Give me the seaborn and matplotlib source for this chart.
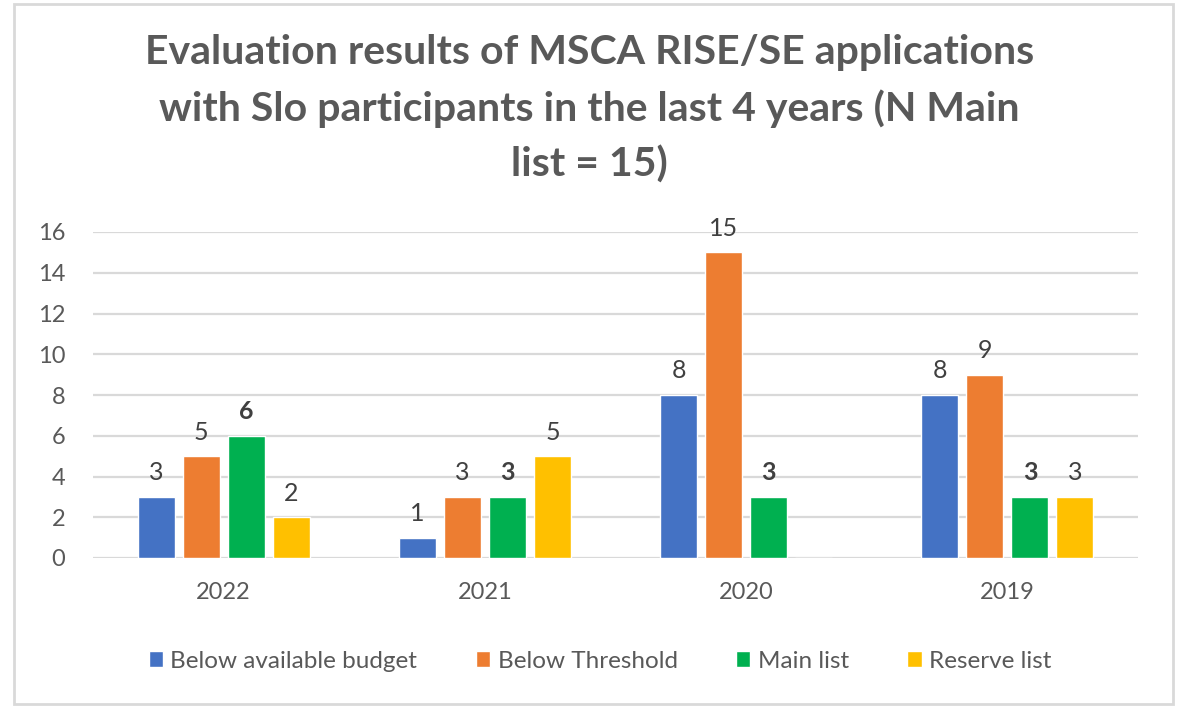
import pandas as pd
import matplotlib.pyplot as plt
import seaborn as sns
import numpy as np

sns.set_theme(style="white")
plt.rcParams['font.family'] = ['Lato', 'DejaVu Sans']

# Chart data
years = ['2022', '2021', '2020', '2019']
series = ['Below available budget', 'Below Threshold', 'Main list', 'Reserve list']
below_budget = [3, 1, 8, 8]
below_threshold = [5, 3, 15, 9]
main_list = [6, 3, 3, 3]
reserve_list = [2, 5, 0, 3]

palette = {'Below available budget': '#4472C4', 'Below Threshold': '#ED7D31',
           'Main list': '#00B050', 'Reserve list': '#FFC000'}

rows = []
for name, vals in zip(series, [below_budget, below_threshold, main_list, reserve_list]):
    for y, v in zip(years, vals):
        rows.append({'Year': y, 'Result': name, 'Count': v})
df = pd.DataFrame(rows)

fig = plt.figure(figsize=(11.79, 7.07), dpi=100)
fig.patch.set_facecolor('white')
# outer light border like an Excel chart area
fig.add_artist(plt.Rectangle((0.012, 0.004), 0.983, 0.99, transform=fig.transFigure,
                             fill=False, edgecolor='#d9d9d9', linewidth=2))

ax = fig.add_axes([93 / 1179, 1 - 558 / 707, (1138 - 93) / 1179, (558 - 232) / 707])
sns.barplot(data=df, x='Year', y='Count', hue='Result', order=years, hue_order=series,
            palette=palette, width=0.69, gap=0.18, saturation=1, ax=ax, legend=True)

ax.set_ylim(0, 16)
ax.set_yticks(range(0, 17, 2))
ax.yaxis.grid(True, color='#d9d9d9', linewidth=1.6)
ax.set_axisbelow(True)
for s in ax.spines.values():
    s.set_visible(False)
ax.tick_params(axis='y', length=0, pad=20, labelsize=17, labelcolor='#595959')
ax.tick_params(axis='x', length=0, pad=17, labelsize=17, labelcolor='#595959')
ax.set_xlabel('')
ax.set_ylabel('')

for cont, name in zip(ax.containers, series):
    vals = df[df['Result'] == name].set_index('Year').loc[years, 'Count'].tolist()
    labels = [str(v) if v > 0 else '' for v in vals]
    ax.bar_label(cont, labels=labels, padding=9, fontsize=18, color='#404040',
                 fontweight='bold' if name == 'Main list' else 'normal')

fig.text(0.5, 0.952, 'Evaluation results of MSCA RISE/SE applications\n'
         'with Slo participants in the last 4 years (N Main\nlist = 15)',
         ha='center', va='top', fontsize=29.5, fontweight='bold', color='#595959',
         linespacing=1.58)

ax.legend(loc='center', bbox_to_anchor=((600 - 93) / 1045, 1 - (661 - 232) / (558 - 232)),
          bbox_transform=ax.transAxes, ncol=4, frameon=False, fontsize=17.5,
          handlelength=0.6, handleheight=0.6, handletextpad=0.3, columnspacing=2.4,
          labelcolor='#595959')

plt.savefig('out.png', dpi=100)
